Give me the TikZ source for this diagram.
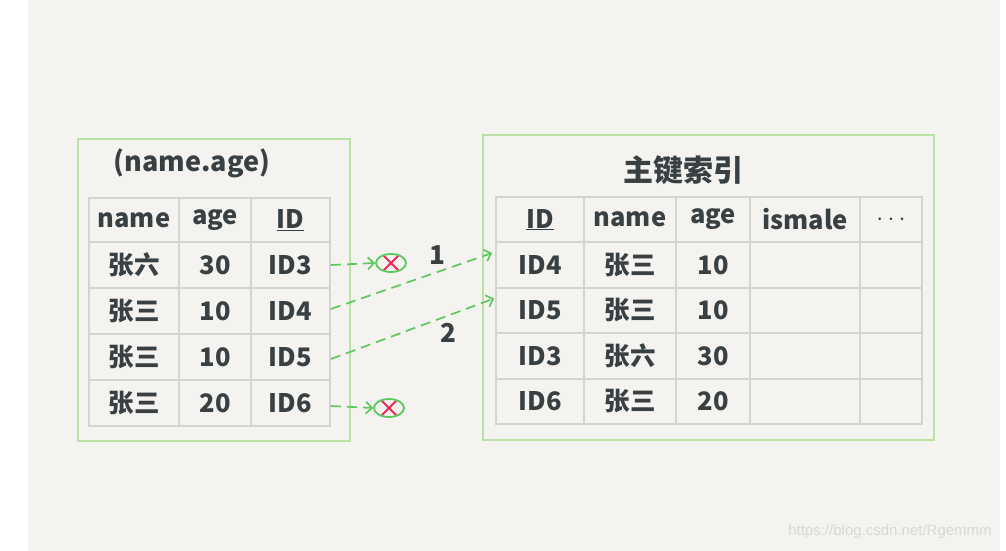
\documentclass[tikz,border=0pt]{standalone}
\usepackage{fontspec}
\setmainfont{Noto Sans CJK SC}
\setsansfont{Liberation Sans}
\usepackage{xcolor}
\usetikzlibrary{shapes.geometric}
\usetikzlibrary{arrows.meta}
\definecolor{bggray}{HTML}{F4F3EF}
\definecolor{boxgreen}{HTML}{B9E2A5}
\definecolor{linegray}{HTML}{D3D3D1}
\definecolor{arrowgreen}{HTML}{5DC95D}
\definecolor{crossred}{HTML}{F0285A}
\definecolor{inkgray}{HTML}{394044}
\definecolor{markgray}{HTML}{D8D8D6}
\tikzset{
  cell/.style={draw=linegray, line width=1.8pt, inner sep=0pt, minimum height=46pt,
    text=inkgray, font=\bfseries\fontsize{25.5}{26}\selectfont},
  headcell/.style={cell, minimum height=44pt},
  outerbox/.style={draw=boxgreen, line width=1.8pt},
  link/.style={-{Straight Barb[length=6pt,width=12pt]}, draw=arrowgreen, line width=1.7pt,
    dash pattern=on 10pt off 6pt},
  drop/.style={ellipse, draw=arrowgreen, line width=1.8pt, minimum width=30pt,
    minimum height=18pt, inner sep=0pt,
    path picture={\draw[crossred, line width=1.8pt]
      ([shift={(-8pt,-8pt)}]path picture bounding box.center) -- ([shift={(8pt,8pt)}]path picture bounding box.center)
      ([shift={(-8pt,8pt)}]path picture bounding box.center) -- ([shift={(8pt,-8pt)}]path picture bounding box.center);}},
  title/.style={text=inkgray, font=\bfseries\fontsize{27}{27}\selectfont},
}
\begin{document}
\begin{tikzpicture}[x=1pt,y=-1pt,
  lc1/.style={cell, minimum width=90pt}, lc2/.style={cell, minimum width=72pt},
  lc3/.style={cell, minimum width=79pt},
  rc1/.style={cell, minimum width=88pt, minimum height=45.5pt}, rc2/.style={cell, minimum width=92pt, minimum height=45.5pt},
  rc3/.style={cell, minimum width=74pt, minimum height=45.5pt}, rc4/.style={cell, minimum width=110pt, minimum height=45.5pt},
  rc5/.style={cell, minimum width=62pt, minimum height=45.5pt}]
\useasboundingbox (0,0) rectangle (1006,551);
\fill[bggray] (28,0) rectangle (1000,551);

% secondary index (name, age)
\draw[outerbox] (78,139) rectangle (350,441);
\node[title] (ltitle) at (192,163) {(name.age)};
\node[lc1, minimum height=44pt] (l-name) at (134,220) {name};
\node[lc2, minimum height=44pt] (l-age) at (215,220) {age};
\node[lc3, minimum height=44pt] (l-id) at (290.5,220) {\underline{ID}};
\foreach \y/\n/\a/\i in {265/张六/30/ID3, 311/张三/10/ID4, 357/张三/10/ID5, 403/张三/20/ID6} {
  \node[lc1] (l-n\i) at (134,\y) {\n};
  \node[lc2] (l-a\i) at (215,\y) {\a};
  \node[lc3] (l-\i) at (290.5,\y) {\i};
}

% primary key index
\draw[outerbox] (483,135) rectangle (934,440);
\node[title, font=\bfseries\fontsize{30}{30}\selectfont] (rtitle) at (683,170) {主键索引};
\node[rc1] (r-id) at (540,219.5) {\underline{ID}};
\node[rc2] (r-name) at (630,219.5) {name};
\node[rc3] (r-age) at (713,219.5) {age};
\node[rc4] (r-male) at (805,219.5) {ismale};
\node[rc5] (r-more) at (891,219.5) {$\cdots$};
\foreach \y/\i/\n/\a in {265/ID4/张三/10, 310.5/ID5/张三/10, 356/ID3/张六/30, 401.5/ID6/张三/20} {
  \node[rc1] (r-\i) at (540,\y) {\i};
  \node[rc2] (r-n\i) at (630,\y) {\n};
  \node[rc3] (r-a\i) at (713,\y) {\a};
  \node[rc4] (r-m\i) at (805,\y) {};
  \node[rc5] (r-x\i) at (891,\y) {};
}

% lookups back to the table
\node[drop] (x3) at (391,263) {};
\node[drop] (x6) at (389,408) {};
\draw[link] (l-ID3.east) -- (x3.west);
\draw[link] ([yshift=-3pt]l-ID6.east) -- (x6.west);
\draw[link] ([yshift=2pt]l-ID4.east) -- ([xshift=-3pt,yshift=12pt]r-ID4.west);
\draw[link] ([yshift=-2pt]l-ID5.east) -- ([xshift=-1pt,yshift=12pt]r-ID5.west);
\node[title, font=\bfseries\fontsize{26}{26}\selectfont] (one) at (437,255) {1};
\node[title, font=\bfseries\fontsize{26}{26}\selectfont] (two) at (448,333) {2};

\node[text=markgray, font=\sffamily\fontsize{15}{15}\selectfont] (mark) at (890,532) {https://blog.csdn.net/Rgemmm};
\end{tikzpicture}
\end{document}
